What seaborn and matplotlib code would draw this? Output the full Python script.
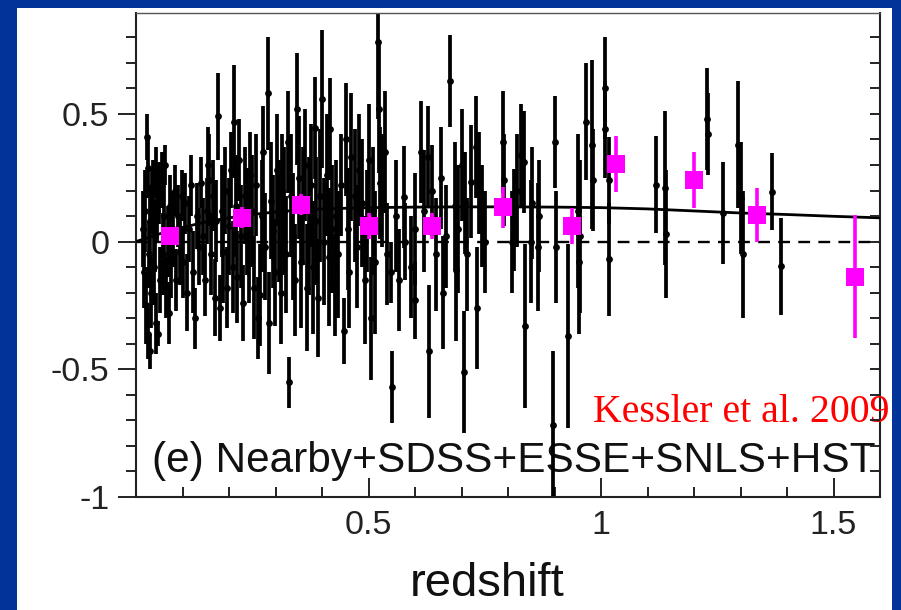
import numpy as np
import pandas as pd
import matplotlib
matplotlib.use("Agg")
import matplotlib.pyplot as plt
import seaborn as sns
from matplotlib.patches import Rectangle
from matplotlib.ticker import FixedLocator, MultipleLocator

# --- individual SNe: Hubble residuals vs redshift ---
nearby_z = [0.015, 0.018, 0.020, 0.022, 0.024, 0.025, 0.026, 0.028, 0.030, 0.030,
            0.032, 0.034, 0.036, 0.038, 0.040, 0.042, 0.044, 0.046, 0.048, 0.050,
            0.052, 0.055, 0.057, 0.060, 0.062, 0.065, 0.068, 0.070, 0.073, 0.076,
            0.080, 0.083, 0.086, 0.090, 0.094, 0.098]
nearby_res = [0.05, -0.12, 0.12, -0.25, 0.41, -0.36, 0.29, -0.05, 0.08, -0.43,
              -0.20, 0.16, 0.22, -0.10, 0.02, 0.27, -0.32, 0.12, -0.36, 0.19,
              -0.15, 0.24, -0.05, 0.10, 0.30, -0.18, 0.00, -0.28, 0.14, -0.08,
              0.05, 0.20, -0.15, 0.10, -0.04, 0.18]
nearby_err = [0.15, 0.14, 0.16, 0.15, 0.09, 0.10, 0.12, 0.13, 0.14, 0.07,
              0.14, 0.13, 0.10, 0.15, 0.14, 0.10, 0.12, 0.12, 0.05, 0.12,
              0.13, 0.11, 0.16, 0.14, 0.08, 0.12, 0.14, 0.12, 0.12, 0.14,
              0.15, 0.10, 0.12, 0.12, 0.13, 0.10]

sdss_z = [0.102, 0.106, 0.110, 0.114, 0.118, 0.122, 0.127, 0.131, 0.135, 0.140,
          0.144, 0.148, 0.152, 0.155, 0.157, 0.161, 0.165, 0.169, 0.172, 0.176,
          0.180, 0.184, 0.188, 0.192, 0.196, 0.200, 0.204, 0.208, 0.210, 0.214,
          0.218, 0.222, 0.226, 0.230, 0.234, 0.238, 0.242, 0.246, 0.250, 0.254,
          0.258, 0.262, 0.266, 0.270, 0.274, 0.278, 0.283, 0.287, 0.291, 0.295,
          0.299, 0.303, 0.307, 0.311, 0.315, 0.319, 0.323, 0.327, 0.330, 0.334,
          0.338, 0.342, 0.347, 0.351, 0.355, 0.359, 0.363, 0.368, 0.372, 0.376,
          0.380, 0.384, 0.388, 0.392, 0.396, 0.400, 0.405, 0.410, 0.414, 0.418]
sdss_res = [-0.08, 0.15, -0.20, 0.05, 0.22, -0.12, -0.30, 0.10, -0.02, 0.23,
            0.02, -0.15, 0.12, 0.30, 0.24, -0.05, 0.18, -0.22, 0.08, 0.49,
            -0.26, 0.12, -0.04, 0.20, -0.18, 0.06, 0.28, -0.10, 0.47, 0.14,
            -0.14, 0.32, 0.02, -0.24, 0.18, 0.08, -0.06, 0.26, 0.12, -0.18,
            0.22, -0.30, -0.21, 0.10, 0.35, -0.02, 0.58, -0.32, 0.16, 0.04,
            -0.12, 0.28, 0.08, -0.20, 0.20, 0.12, -0.05, 0.39, -0.55, 0.18,
            0.02, -0.15, 0.52, 0.25, -0.08, 0.14, 0.30, -0.18, 0.06, 0.22,
            -0.10, 0.445, 0.08, -0.22, 0.18, 0.56, 0.00, 0.26, -0.06, 0.44]
sdss_err = [0.14, 0.12, 0.15, 0.13, 0.12, 0.16, 0.12, 0.13, 0.15, 0.10,
            0.15, 0.14, 0.13, 0.15, 0.18, 0.16, 0.14, 0.15, 0.16, 0.17,
            0.13, 0.18, 0.20, 0.17, 0.16, 0.19, 0.15, 0.18, 0.22, 0.20,
            0.18, 0.16, 0.20, 0.15, 0.19, 0.21, 0.18, 0.17, 0.22, 0.20,
            0.20, 0.16, 0.20, 0.22, 0.18, 0.21, 0.22, 0.20, 0.23, 0.22,
            0.21, 0.22, 0.24, 0.20, 0.22, 0.25, 0.23, 0.20, 0.10, 0.24,
            0.25, 0.22, 0.22, 0.24, 0.26, 0.23, 0.22, 0.25, 0.27, 0.24,
            0.26, 0.20, 0.25, 0.23, 0.26, 0.27, 0.25, 0.24, 0.27, 0.20]

essence_z = [0.422, 0.427, 0.430, 0.435, 0.440, 0.447, 0.452, 0.455, 0.458, 0.463,
             0.470, 0.475, 0.480, 0.487, 0.492, 0.496, 0.500, 0.506, 0.510, 0.515,
             0.520, 0.522, 0.525, 0.530, 0.535, 0.540, 0.549, 0.551, 0.560, 0.565,
             0.577, 0.579, 0.592, 0.599, 0.600, 0.613, 0.620, 0.629, 0.631, 0.637,
             0.645, 0.655, 0.660, 0.667, 0.675, 0.687, 0.689, 0.693, 0.700, 0.706,
             0.708, 0.712, 0.720, 0.731, 0.733, 0.738, 0.745, 0.751]
essence_res = [0.05, -0.17, 0.10, -0.05, 0.22, -0.35, 0.40, 0.05, -0.12, 0.33,
               0.18, -0.02, 0.28, 0.15, -0.15, 0.08, 0.32, -0.30, 0.12, -0.08,
               0.78, 0.52, 0.23, 0.20, 0.35, -0.05, -0.12, -0.57, 0.10, -0.15,
               0.175, 0.00, -0.10, -0.23, 0.05, 0.35, 0.12, 0.33, -0.43, 0.20,
               -0.05, 0.25, -0.20, 0.02, 0.63, 0.14, -0.11, 0.05, 0.30, -0.51,
               0.15, -0.05, 0.235, 0.37, -0.26, 0.23, 0.10, 0.00]
essence_err = [0.25, 0.20, 0.22, 0.25, 0.20, 0.13, 0.22, 0.24, 0.22, 0.25,
               0.26, 0.24, 0.22, 0.25, 0.25, 0.20, 0.22, 0.24, 0.25, 0.28,
               0.30, 0.25, 0.22, 0.22, 0.24, 0.20, 0.12, 0.14, 0.22, 0.20,
               0.20, 0.15, 0.20, 0.15, 0.22, 0.20, 0.24, 0.20, 0.26, 0.18,
               0.22, 0.20, 0.22, 0.20, 0.18, 0.25, 0.28, 0.25, 0.22, 0.24,
               0.20, 0.22, 0.22, 0.20, 0.24, 0.20, 0.20, 0.20]

snls_z = [0.790, 0.792, 0.808, 0.813, 0.820, 0.828, 0.835, 0.836, 0.850, 0.852,
          0.865, 0.867, 0.897, 0.900, 0.903, 0.930, 0.950, 0.952, 0.955, 0.968,
          0.980, 0.982, 1.008, 1.009, 1.017, 1.018]
snls_res = [0.39, 0.24, 0.00, 0.086, 0.20, 0.34, 0.31, -0.33, 0.00, 0.15,
            -0.02, 0.10, -0.72, 0.39, -0.02, -0.37, 0.12, -0.08, 0.02, 0.47,
            0.38, 0.24, 0.60, 0.44, 0.24, -0.07]
snls_err = [0.20, 0.18, 0.20, 0.20, 0.22, 0.20, 0.20, 0.32, 0.24, 0.22,
            0.25, 0.22, 0.29, 0.18, 0.22, 0.36, 0.30, 0.28, 0.30, 0.23,
            0.33, 0.20, 0.20, 0.19, 0.17, 0.22]

hst_z = [1.118, 1.137, 1.140, 1.227, 1.230, 1.262, 1.295, 1.300, 1.305, 1.367, 1.388]
hst_res = [0.223, 0.21, 0.03, 0.48, 0.42, 0.113, 0.38, 0.17, -0.05, 0.195, -0.097]
hst_err = [0.19, 0.30, 0.25, 0.20, 0.16, 0.20, 0.25, 0.22, 0.25, 0.15, 0.19]

# --- binned averages (magenta) ---
bin_z = [0.073, 0.228, 0.354, 0.500, 0.637, 0.790, 0.937, 1.032, 1.200, 1.335, 1.547]
bin_res = [0.02, 0.094, 0.145, 0.06, 0.06, 0.135, 0.062, 0.305, 0.242, 0.105, -0.137]
bin_err = [0.03, 0.04, 0.04, 0.05, 0.05, 0.08, 0.07, 0.11, 0.11, 0.105, 0.24]

# --- best-fit model curve relative to the reference cosmology ---
model_z = [0.0, 0.05, 0.1, 0.15, 0.2, 0.25, 0.3, 0.35, 0.4, 0.5, 0.6, 0.7,
           0.8, 0.9, 1.0, 1.1, 1.2, 1.3, 1.4, 1.5, 1.6]
model_res = [0.0, 0.03, 0.055, 0.077, 0.093, 0.106, 0.116, 0.123, 0.128, 0.133,
             0.135, 0.136, 0.136, 0.135, 0.133, 0.128, 0.12, 0.112, 0.106, 0.099, 0.093]

groups = [
    ("Nearby", nearby_z, nearby_res, nearby_err),
    ("SDSS", sdss_z, sdss_res, sdss_err),
    ("ESSENCE", essence_z, essence_res, essence_err),
    ("SNLS", snls_z, snls_res, snls_err),
    ("HST", hst_z, hst_res, hst_err),
]
sn = pd.concat([pd.DataFrame({"z": z, "res": r, "err": e, "survey": name})
                for name, z, r, e in groups], ignore_index=True)
bins = pd.DataFrame({"z": bin_z, "res": bin_res, "err": bin_err})
model = pd.DataFrame({"z": model_z, "res": model_res})

sns.set_theme(style="ticks")
plt.rcParams['font.family'] = ['Liberation Sans', 'DejaVu Sans']

fig = plt.figure(figsize=(9.01, 6.10), dpi=100)
fig.patch.set_facecolor('#023399')
fig.add_artist(Rectangle((17 / 901, 0), 875 / 901, 602 / 610, transform=fig.transFigure,
                         facecolor='white', edgecolor='none', zorder=-1))
ax = fig.add_axes([136 / 901, 1 - 497 / 610, 744 / 901, 484 / 610])
ax.set_facecolor('white')

# zero line and model
ax.axhline(0, color='black', lw=1.7, ls=(0, (5, 3.5)), zorder=1)
sns.lineplot(data=model, x="z", y="res", color='black', lw=2.0, ax=ax, zorder=3)

# individual SNe
ax.errorbar(sn["z"], sn["res"], yerr=sn["err"], fmt='none', ecolor='black',
            elinewidth=2.7, capsize=0, zorder=2)
sns.scatterplot(data=sn, x="z", y="res", color='black', s=24, linewidth=0,
                ax=ax, zorder=2.5, legend=False)

# binned
ax.errorbar(bins["z"], bins["res"], yerr=bins["err"], fmt='none', ecolor='#ff00ff',
            elinewidth=2.6, capsize=0, zorder=4)
sns.scatterplot(data=bins, x="z", y="res", color='#ff00ff', marker='s', s=175,
                linewidth=0, ax=ax, zorder=5, legend=False)

ax.set_xlim(0, 1.6)
ax.set_ylim(-1, 0.895)
ax.xaxis.set_major_locator(FixedLocator([0.5, 1.0, 1.5]))
ax.set_xticklabels(['0.5', '1', '1.5'])
ax.xaxis.set_minor_locator(MultipleLocator(0.1))
ax.yaxis.set_major_locator(FixedLocator([-1, -0.5, 0, 0.5]))
ax.set_yticklabels(['-1', '-0.5', '0', '0.5'])
ax.yaxis.set_minor_locator(MultipleLocator(0.1))
ax.tick_params(axis='x', which='major', direction='in', length=14, width=1.4,
               labelsize=24.5, pad=9, colors='#222222')
ax.tick_params(axis='x', which='minor', direction='in', length=7, width=1.4, colors='#222222')
ax.tick_params(axis='y', which='major', direction='out', length=13, width=1.4,
               labelsize=24.5, pad=6, colors='#222222')
ax.tick_params(axis='y', which='minor', direction='out', length=7, width=1.4, colors='#222222')
for s in ax.spines.values():
    s.set_color('#222222')
    s.set_linewidth(1.5)
ax.spines['top'].set_color('#555555')
ax.spines['top'].set_linewidth(1.0)

ax2 = ax.twinx()
ax2.set_ylim(-1, 0.895)
ax2.yaxis.set_major_locator(MultipleLocator(0.1))
ax2.tick_params(axis='y', direction='in', length=7, width=1.4, labelright=False, colors='#222222')
ax2.grid(False)
for s in ax2.spines.values():
    s.set_visible(False)

ax.set_xlabel('redshift', fontsize=34, color='#111111')
ax.xaxis.set_label_coords(0.4725, -0.135)
ax.set_ylabel('')

ax.text(0.0215, 0.0517, '(e) Nearby+SDSS+ESSE+SNLS+HST', transform=ax.transAxes,
        fontsize=30.5, ha='left', va='baseline', color='#111111', zorder=1)
ax.text(0.614, 0.155, 'Kessler et al. 2009', transform=ax.transAxes,
        fontsize=28.7, ha='left', va='baseline', color='#ff0000',
        family=['Liberation Serif', 'DejaVu Serif'], clip_on=False, zorder=6)

fig.savefig('out.png', dpi=100, facecolor=fig.get_facecolor())
